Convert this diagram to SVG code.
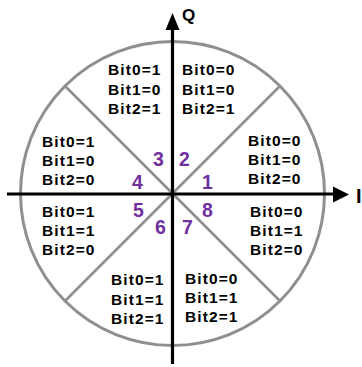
<svg xmlns="http://www.w3.org/2000/svg" width="362" height="367" viewBox="0 0 362 367">
<style>
.ring{fill:none;stroke:#8f8f8f;stroke-width:3}
.div{stroke:#8f8f8f;stroke-width:2.6}
.axis{stroke:#000;stroke-width:3.2}
.lbl{font-family:"Liberation Sans",Arial,sans-serif;font-weight:bold;font-size:15.5px;letter-spacing:1.1px;fill:#000}
.num{font-family:"Liberation Sans",Arial,sans-serif;font-weight:bold;font-size:19.5px;fill:#7030a0}
.ax{font-family:"Liberation Sans",Arial,sans-serif;font-weight:bold;fill:#000}
</style>
<rect width="362" height="367" fill="#fff"/>
<g id="circle">
<circle class="ring" cx="172.5" cy="193.5" r="152"/>
</g>
<g id="connectors">
<line class="div" x1="65" y1="86" x2="280" y2="301"/>
<line class="div" x1="280" y1="86" x2="65" y2="301"/>
<line class="axis" x1="7" y1="194" x2="335" y2="194"/>
<line class="axis" x1="172.5" y1="28" x2="172.5" y2="364"/>
<polygon points="349,194.5 333,186.5 333,202.5" fill="#000"/>
<polygon points="172.5,13 165.5,30 179.5,30" fill="#000"/>
</g>
<g id="axis-labels">
<text class="ax" x="182" y="21" font-size="17">Q</text>
<text class="ax" x="356" y="203" font-size="20">I</text>
</g>
<g id="sector3">
<text class="lbl" x="108" y="75">Bit0=1</text>
<text class="lbl" x="108" y="95">Bit1=0</text>
<text class="lbl" x="108" y="114">Bit2=1</text>
<text class="num" x="153" y="166">3</text>
</g>
<g id="sector2">
<text class="lbl" x="182" y="75">Bit0=0</text>
<text class="lbl" x="182" y="95">Bit1=0</text>
<text class="lbl" x="182" y="114">Bit2=1</text>
<text class="num" x="179" y="166">2</text>
</g>
<g id="sector4">
<text class="lbl" x="42" y="147">Bit0=1</text>
<text class="lbl" x="42" y="166">Bit1=0</text>
<text class="lbl" x="42" y="185">Bit2=0</text>
<text class="num" x="132" y="189">4</text>
</g>
<g id="sector1">
<text class="lbl" x="248" y="146">Bit0=0</text>
<text class="lbl" x="248" y="165">Bit1=0</text>
<text class="lbl" x="248" y="184">Bit2=0</text>
<text class="num" x="202" y="189">1</text>
</g>
<g id="sector5">
<text class="lbl" x="42" y="217">Bit0=1</text>
<text class="lbl" x="42" y="236">Bit1=1</text>
<text class="lbl" x="42" y="255">Bit2=0</text>
<text class="num" x="133" y="217">5</text>
</g>
<g id="sector8">
<text class="lbl" x="250" y="217">Bit0=0</text>
<text class="lbl" x="250" y="236">Bit1=1</text>
<text class="lbl" x="250" y="255">Bit2=0</text>
<text class="num" x="202" y="217">8</text>
</g>
<g id="sector6">
<text class="lbl" x="111" y="285">Bit0=1</text>
<text class="lbl" x="111" y="305">Bit1=1</text>
<text class="lbl" x="111" y="324">Bit2=1</text>
<text class="num" x="155" y="234">6</text>
</g>
<g id="sector7">
<text class="lbl" x="185" y="284">Bit0=0</text>
<text class="lbl" x="185" y="303">Bit1=1</text>
<text class="lbl" x="185" y="322">Bit2=1</text>
<text class="num" x="182" y="234">7</text>
</g>
</svg>
